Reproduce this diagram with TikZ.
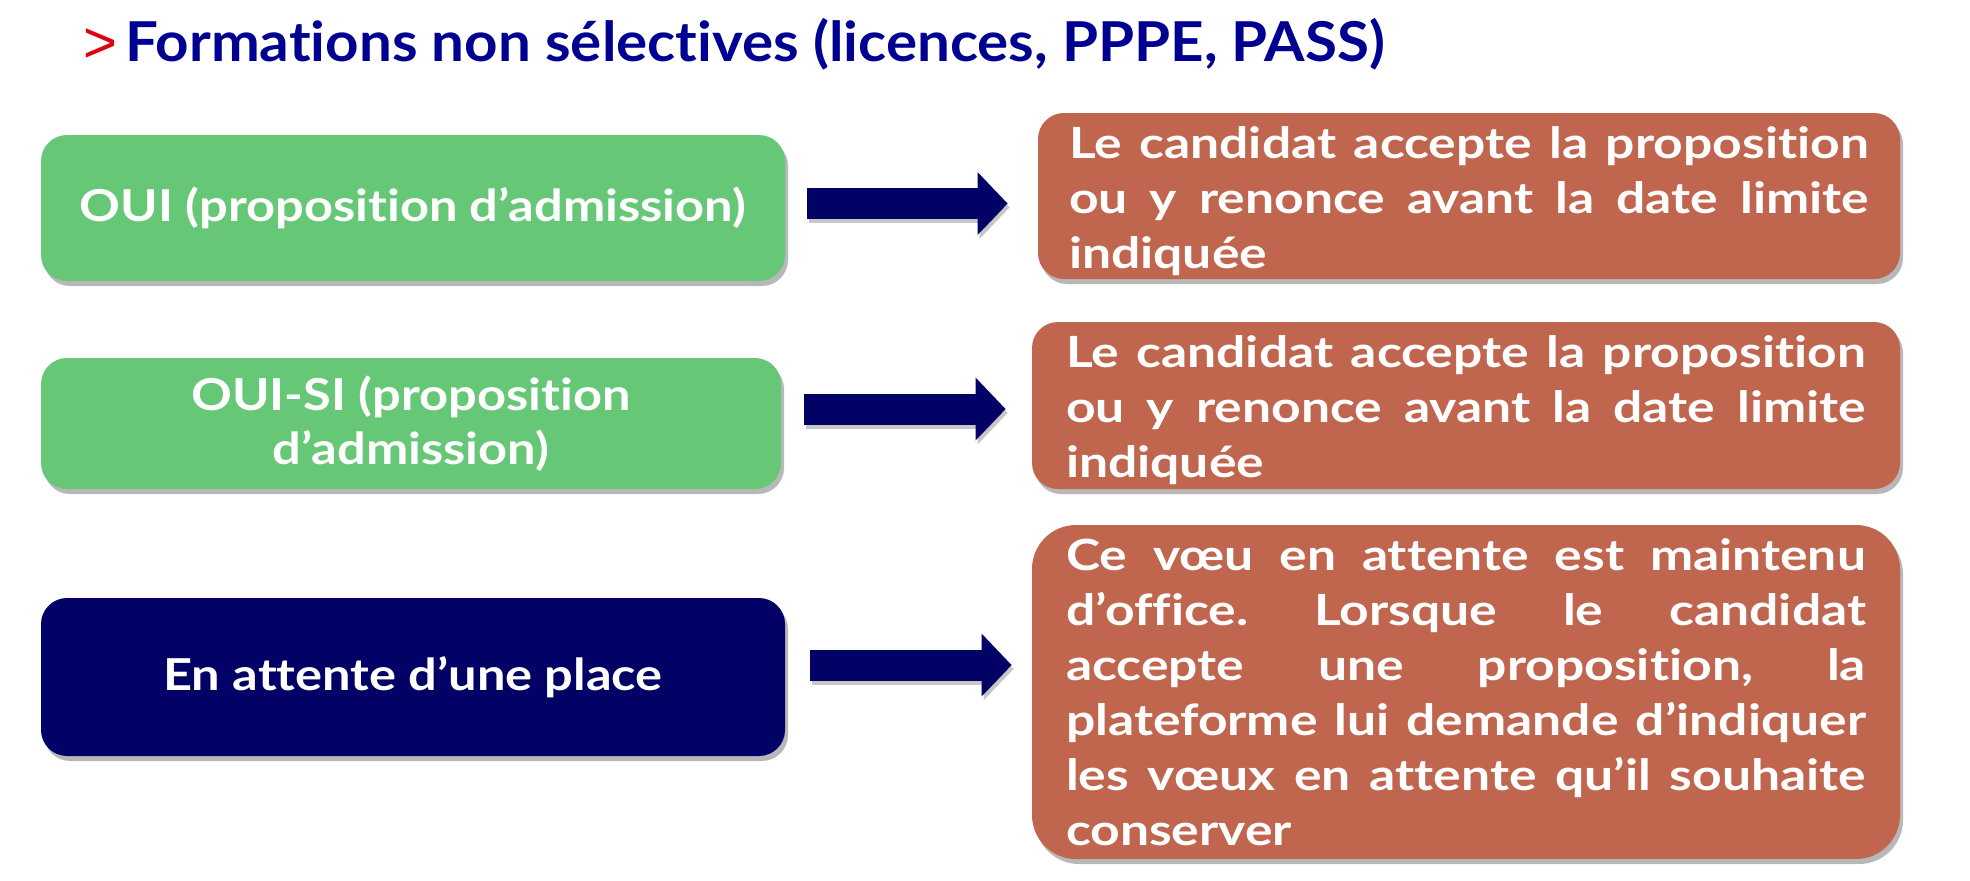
\documentclass[tikz,border=0pt]{standalone}
\usepackage{fontspec}
\setmainfont{Lato}[Ligatures=NoCommon]
\newfontfamily\titlefont[FakeStretch=1.06,Ligatures=NoCommon]{Lato}
\newfontfamily\chevfont{Liberation Sans}
\newfontfamily\gfont[FakeStretch=1.15,Ligatures=NoCommon]{Lato}
\newfontfamily\rfont[FakeStretch=1.2,Ligatures=NoCommon]{Lato}
\usetikzlibrary{arrows.meta,shadows}
\definecolor{vert}{HTML}{66C877}
\definecolor{brique}{HTML}{C0664F}
\definecolor{marine}{HTML}{020266}
\definecolor{titre}{HTML}{000091}
\definecolor{rouge}{HTML}{E1000F}
\tikzset{
  ombre/.style={drop shadow={shadow xshift=1.5pt, shadow yshift=-2.5pt, opacity=0.28, fill=black}},
  gbox/.style={fill=vert, rounded corners=13pt, ombre, text=white, align=center, inner sep=0pt,
    font=\gfont\bfseries\fontsize{22}{27}\selectfont},
  nbox/.style={gbox, fill=marine},
  rbox/.style={fill=brique, rounded corners=13pt, ombre, inner sep=0pt},
  rtext/.style={text=white, text width=400pt, align=justify, inner sep=0pt,
    font=\rfont\bfseries\fontsize{21.5}{27.5}\selectfont},
  barrow/.style={draw=marine, line width=15.5pt, -{Triangle[width=30.5pt,length=15pt]}},
  barrowshadow/.style={draw=black, opacity=0.22, line width=15.5pt, -{Triangle[width=30.5pt,length=15pt]},
    transform canvas={xshift=1pt,yshift=-2pt}},
}
\begin{document}
\frenchspacing
\begin{tikzpicture}[x=0.5pt,y=-0.5pt]
\useasboundingbox (0,0) rectangle (1970,880);
% title
\node[anchor=base west, inner sep=0pt, text=rouge, font=\chevfont\fontsize{29}{30}\selectfont] (chev) at (83,62) {>};
\node[anchor=base west, inner sep=0pt, text=titre, font=\titlefont\bfseries\fontsize{27.5}{30}\selectfont] (titre) at (125,61) {Formations non sélectives (licences, PPPE, PASS)};
% left boxes
\node[gbox, minimum width=372pt, minimum height=73pt] (g1) at (413,208) {OUI (proposition d’admission)};
\node[gbox, minimum width=370pt, minimum height=65.5pt] (g2) at (411,423.5) {OUI-SI (proposition\\d’admission)};
\node[nbox, minimum width=372pt, minimum height=79pt] (n) at (413,677) {En attente d’une place};
% right boxes
\node[rbox, minimum width=431pt, minimum height=83pt] (r1) at (1469,196) {};
\node[rtext] (r1t) at ([yshift=-2.5pt]r1.center)
  {Le candidat accepte la proposition\linebreak ou y renonce avant la date limite\linebreak indiquée};
\node[rbox, minimum width=434pt, minimum height=83.5pt] (r2) at (1466,405.5) {};
\node[rtext] (r2t) at ([yshift=-2.5pt]r2.center)
  {Le candidat accepte la proposition\linebreak ou y renonce avant la date limite\linebreak indiquée};
\node[rbox, minimum width=434pt, minimum height=167pt, rounded corners=22pt] (r3) at (1466,692) {};
\node[rtext] (r3t) at (r3.center)
  {Ce vœu en attente est maintenu\linebreak d’office. Lorsque le candidat\linebreak accepte une proposition, la\linebreak plateforme lui demande d’indiquer\linebreak les vœux en attente qu’il souhaite\linebreak conserver};
% arrows
\draw[barrowshadow, shorten <=11pt, shorten >=15pt] ([yshift=2.25pt]g1.east) -- ([yshift=2.25pt]g1.east -| r1.west);
\draw[barrow, shorten <=11pt, shorten >=15pt] ([yshift=2.25pt]g1.east) -- ([yshift=2.25pt]g1.east -| r1.west);
\draw[barrowshadow, shorten <=11.5pt, shorten >=13pt] ([yshift=7.25pt]g2.east) -- ([yshift=7.25pt]g2.east -| r2.west);
\draw[barrow, shorten <=11.5pt, shorten >=13pt] ([yshift=7.25pt]g2.east) -- ([yshift=7.25pt]g2.east -| r2.west);
\draw[barrowshadow, shorten <=12.5pt, shorten >=10pt] ([yshift=6pt]n.east) -- ([yshift=6pt]n.east -| r3.west);
\draw[barrow, shorten <=12.5pt, shorten >=10pt] ([yshift=6pt]n.east) -- ([yshift=6pt]n.east -| r3.west);
\end{tikzpicture}
\end{document}
